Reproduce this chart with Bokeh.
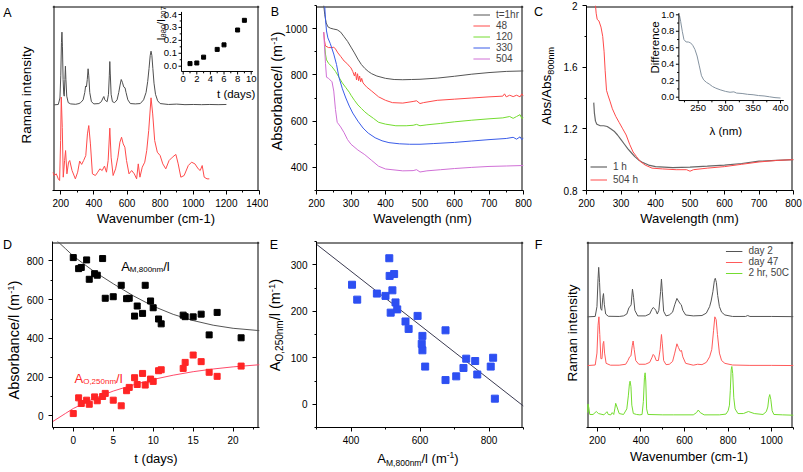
import math
from bokeh.plotting import figure
from bokeh.models import Range1d, Label, Legend, LegendItem, FixedTicker, GridBox, Div
from bokeh.embed import file_html
from bokeh.resources import INLINE
from bokeh.core.properties import value

FONT = "Liberation Sans"

# ---------------- data ----------------
# A: Raman spectra (arbitrary intensity, 0..1 of panel height)
a_black_w = [160, 185, 195, 200, 204, 207, 210, 214, 218, 221, 225, 228, 231, 236, 245, 260, 290, 310, 320, 335, 345, 350, 355, 360, 365, 369, 375, 385, 400, 430, 445, 455, 460, 466, 472, 480, 488, 493, 496, 499, 504, 512, 525, 540, 550, 558, 565, 572, 580, 588, 594, 605, 620, 650, 680, 700, 715, 725, 733, 740, 745, 750, 756, 763, 772, 785, 800, 850, 900, 950, 1000, 1050, 1100, 1150, 1200]
a_black_i = [0.463, 0.465, 0.50, 0.62, 0.80, 0.856, 0.78, 0.60, 0.52, 0.51, 0.60, 0.672, 0.60, 0.51, 0.475, 0.468, 0.466, 0.47, 0.475, 0.49, 0.53, 0.565, 0.56, 0.60, 0.658, 0.62, 0.53, 0.48, 0.468, 0.47, 0.48, 0.50, 0.508, 0.49, 0.485, 0.48, 0.52, 0.62, 0.697, 0.63, 0.52, 0.48, 0.475, 0.49, 0.53, 0.57, 0.60, 0.585, 0.56, 0.555, 0.53, 0.49, 0.47, 0.468, 0.47, 0.49, 0.53, 0.59, 0.66, 0.73, 0.753, 0.73, 0.66, 0.58, 0.52, 0.485, 0.47, 0.465, 0.467, 0.464, 0.465, 0.464, 0.465, 0.464, 0.465]
a_red_w = [152, 160, 173, 185, 193, 199, 203, 209, 215, 223, 229, 237, 247, 254, 268, 288, 302, 314, 326, 338, 351, 361, 369, 379, 391, 409, 423, 436, 450, 464, 476, 486, 496, 504, 516, 531, 545, 557, 567, 577, 587, 597, 612, 628, 644, 658, 668, 678, 692, 707, 719, 731, 745, 755, 767, 783, 800, 816, 834, 854, 874, 895, 909, 925, 945, 970, 990, 1010, 1030, 1042, 1054, 1066, 1083, 1097]
a_red_i = [0.099, 0.081, 0.09, 0.063, 0.054, 0.27, 0.505, 0.34, 0.072, 0.162, 0.216, 0.09, 0.153, 0.162, 0.108, 0.063, 0.099, 0.159, 0.141, 0.162, 0.189, 0.306, 0.351, 0.252, 0.09, 0.081, 0.099, 0.117, 0.108, 0.132, 0.099, 0.162, 0.337, 0.18, 0.081, 0.117, 0.18, 0.261, 0.288, 0.252, 0.234, 0.162, 0.09, 0.108, 0.09, 0.063, 0.144, 0.072, 0.126, 0.153, 0.216, 0.324, 0.501, 0.414, 0.27, 0.207, 0.189, 0.144, 0.117, 0.162, 0.18, 0.195, 0.144, 0.072, 0.081, 0.135, 0.153, 0.144, 0.117, 0.108, 0.135, 0.072, 0.063, 0.063]
# A inset: I880/I207 vs t
ins_a_t = [1, 2, 3, 5, 6, 8, 9]
ins_a_r = [0.02, 0.025, 0.07, 0.13, 0.165, 0.28, 0.355]

# B: absorbance spectra
b_labels = ["t=1hr", "48", "120", "330", "504"]
b1_w = [221, 224, 228, 233, 240, 250, 260, 270, 280, 290, 300, 310, 320, 330, 340, 350, 360, 375, 400, 425, 450, 475, 500, 550, 600, 650, 700, 750, 800]
b1_a = [1100, 1060, 1025, 1008, 1002, 998, 995, 985, 965, 945, 920, 895, 868, 845, 828, 815, 805, 795, 785, 780, 779, 780, 781, 786, 794, 803, 810, 815, 817]
b2_w = [221, 223, 226, 235, 245, 250, 255, 262, 270, 280, 288, 295, 300, 305, 310, 313, 316, 319, 322, 325, 328, 331, 335, 345, 360, 380, 400, 420, 450, 480, 490, 500, 510, 550, 600, 650, 700, 740, 745, 750, 760, 770, 780, 790, 795, 800]
b2_a = [985, 950, 925, 918, 918, 920, 912, 895, 880, 860, 850, 838, 830, 815, 795, 812, 778, 805, 775, 795, 770, 785, 765, 748, 730, 705, 690, 680, 678, 685, 688, 676, 680, 690, 695, 700, 705, 708, 718, 705, 712, 706, 712, 705, 718, 708]
b3_w = [224, 226, 229, 235, 245, 255, 265, 275, 285, 295, 300, 310, 320, 330, 340, 350, 365, 380, 400, 430, 460, 480, 490, 500, 520, 560, 600, 650, 700, 740, 760, 770, 780, 790, 795, 800]
b3_a = [925, 890, 865, 850, 835, 815, 790, 765, 745, 725, 712, 690, 670, 655, 640, 628, 612, 595, 587, 580, 580, 582, 586, 580, 584, 590, 597, 604, 610, 614, 620, 612, 620, 628, 612, 615]
b4_w = [224, 226, 229, 233, 240, 250, 258, 265, 275, 285, 295, 305, 320, 335, 350, 370, 390, 410, 440, 470, 500, 540, 600, 650, 700, 750, 770, 780, 790, 795, 800]
b4_a = [1095, 1040, 990, 960, 935, 890, 845, 790, 740, 700, 665, 635, 600, 570, 548, 528, 515, 507, 502, 500, 500, 503, 508, 514, 520, 525, 530, 522, 532, 520, 528]
b5_w = [221, 223, 226, 229, 235, 245, 250, 255, 260, 270, 280, 290, 300, 320, 340, 360, 380, 400, 450, 480, 490, 500, 520, 560, 600, 650, 700, 750, 800]
b5_a = [985, 930, 850, 790, 785, 770, 730, 650, 595, 575, 550, 520, 500, 475, 455, 430, 405, 393, 385, 386, 390, 380, 385, 390, 395, 400, 404, 406, 408]

# C: normalised spectra
c1_w = [221, 223, 226, 230, 240, 250, 260, 270, 280, 290, 300, 310, 320, 330, 340, 350, 360, 380, 400, 450, 500, 550, 600, 650, 700, 750, 800]
c1_a = [1.37, 1.30, 1.25, 1.23, 1.22, 1.22, 1.215, 1.20, 1.185, 1.16, 1.13, 1.10, 1.07, 1.045, 1.02, 1.0, 0.985, 0.965, 0.955, 0.948, 0.952, 0.958, 0.965, 0.975, 0.99, 0.995, 1.0]
c2_w = [226, 228, 231, 236, 242, 247, 251, 254, 258, 262, 268, 275, 285, 295, 305, 315, 325, 335, 345, 355, 370, 390, 420, 460, 490, 500, 510, 550, 600, 650, 700, 750, 800]
c2_a = [2.0, 1.95, 1.91, 1.90, 1.86, 1.80, 1.70, 1.58, 1.45, 1.42, 1.38, 1.33, 1.28, 1.24, 1.20, 1.16, 1.10, 1.05, 1.02, 0.99, 0.965, 0.945, 0.94, 0.935, 0.935, 0.925, 0.935, 0.945, 0.955, 0.97, 0.985, 0.995, 1.0]
c_labels = ["1 h", "504 h"]
# C inset: difference spectrum
ic_w = [216, 218, 221, 224, 228, 232, 236, 240, 244, 248, 252, 256, 260, 265, 270, 276, 282, 290, 300, 308, 315, 320, 330, 340, 350, 360, 370, 380, 390, 400]
ic_d = [0.99, 0.92, 0.80, 0.70, 0.67, 0.67, 0.66, 0.63, 0.58, 0.50, 0.38, 0.26, 0.21, 0.18, 0.16, 0.13, 0.11, 0.09, 0.07, 0.06, 0.065, 0.05, 0.045, 0.035, 0.03, 0.02, 0.015, 0.005, -0.005, -0.01]

# D: absorbance vs time
d_t = [0, 0.67, 1.0, 1.67, 2.0, 2.67, 3.0, 3.67, 4.0, 5.0, 6.0, 6.67, 7.0, 7.67, 8.0, 8.67, 9.0, 9.67, 10.0, 10.67, 11.0, 13.75, 14.0, 15.0, 16.0, 17.0, 18.0, 21.0]
d_am = [817, 760, 766, 805, 705, 734, 726, 812, 607, 615, 674, 605, 607, 515, 567, 529, 674, 593, 558, 500, 475, 520, 512, 511, 525, 418, 534, 403]
d_ao = [12, 93, 64, 81, 60, 98, 78, 100, 116, 81, 52, 130, 147, 197, 162, 219, 159, 190, 178, 233, 238, 245, 276, 314, 280, 225, 204, 257]
d_fit_t = [-2.6, -1, 0, 2.5, 5, 7.5, 10, 12.5, 15, 17.5, 20, 23.3]
d_fit_am = [925, 864, 825, 748, 682, 620, 566, 524, 492, 468, 452, 440]
d_fit_ao = [-30, 12, 38, 88, 128, 160, 188, 210, 228, 242, 253, 264]

# E: linear fit end points
e_fit_x = [300, 900]
e_fit_y = [344, -4]

# F: Raman spectra
f1_w = [155, 190, 198, 203, 206, 210, 215, 220, 225, 228, 232, 238, 250, 300, 320, 335, 345, 350, 355, 361, 366, 372, 385, 420, 440, 450, 456, 462, 468, 475, 482, 490, 494, 498, 504, 515, 530, 545, 555, 565, 572, 580, 585, 592, 605, 640, 680, 700, 715, 722, 730, 737, 741, 746, 752, 760, 770, 785, 820, 880, 890, 900, 1000, 1100]
f1_i = [0.595, 0.597, 0.65, 0.80, 0.861, 0.78, 0.64, 0.63, 0.70, 0.72, 0.66, 0.61, 0.598, 0.597, 0.60, 0.61, 0.645, 0.65, 0.66, 0.744, 0.70, 0.63, 0.60, 0.60, 0.61, 0.635, 0.645, 0.64, 0.63, 0.61, 0.63, 0.73, 0.798, 0.73, 0.625, 0.60, 0.605, 0.62, 0.66, 0.694, 0.68, 0.665, 0.66, 0.63, 0.605, 0.60, 0.602, 0.615, 0.65, 0.68, 0.73, 0.79, 0.802, 0.78, 0.71, 0.65, 0.62, 0.605, 0.597, 0.597, 0.602, 0.597, 0.597, 0.596]
f2_w = [155, 190, 198, 203, 207, 211, 216, 221, 226, 229, 233, 240, 260, 300, 330, 340, 348, 354, 360, 364, 369, 376, 390, 420, 440, 450, 456, 462, 470, 480, 488, 494, 498, 504, 515, 530, 545, 555, 565, 572, 580, 586, 592, 605, 640, 660, 680, 700, 715, 725, 733, 739, 745, 751, 760, 770, 785, 820, 900, 1000, 1100]
f2_i = [0.333, 0.336, 0.40, 0.55, 0.595, 0.50, 0.37, 0.37, 0.45, 0.463, 0.40, 0.345, 0.335, 0.335, 0.34, 0.36, 0.38, 0.385, 0.44, 0.465, 0.42, 0.36, 0.34, 0.34, 0.35, 0.375, 0.393, 0.385, 0.36, 0.36, 0.42, 0.50, 0.45, 0.36, 0.338, 0.34, 0.355, 0.40, 0.45, 0.43, 0.41, 0.414, 0.38, 0.345, 0.335, 0.34, 0.338, 0.35, 0.38, 0.42, 0.52, 0.595, 0.58, 0.50, 0.40, 0.36, 0.345, 0.336, 0.334, 0.334, 0.333]
f3_w = [155, 157, 160, 165, 180, 195, 205, 230, 244, 250, 262, 268, 275, 280, 284, 290, 300, 320, 335, 342, 347, 350, 354, 358, 365, 380, 395, 405, 411, 416, 419, 422, 426, 432, 500, 550, 640, 655, 663, 672, 690, 760, 790, 800, 806, 810, 814, 817, 821, 826, 832, 845, 870, 893, 920, 960, 975, 982, 987, 991, 996, 1002, 1010, 1050, 1100]
f3_i = [0.08, 0.126, 0.11, 0.07, 0.07, 0.086, 0.075, 0.068, 0.085, 0.07, 0.068, 0.08, 0.07, 0.10, 0.13, 0.11, 0.075, 0.07, 0.10, 0.17, 0.235, 0.249, 0.22, 0.12, 0.075, 0.07, 0.068, 0.07, 0.14, 0.27, 0.294, 0.25, 0.10, 0.07, 0.068, 0.068, 0.068, 0.08, 0.094, 0.08, 0.068, 0.068, 0.072, 0.09, 0.12, 0.20, 0.31, 0.328, 0.29, 0.16, 0.10, 0.075, 0.075, 0.086, 0.075, 0.07, 0.085, 0.11, 0.16, 0.177, 0.15, 0.09, 0.07, 0.068, 0.066]
f_labels = ["day 2", "day 47", "2 hr, 50C"]

# tick values
a_xt = [200, 400, 600, 800, 1000, 1200, 1400]
a_xm = [300, 500, 700, 900, 1100, 1300]
bc_xt = [200, 300, 400, 500, 600, 700, 800]
bc_xm = [250, 350, 450, 550, 650, 750]
b_yt = [400, 600, 800, 1000]
b_ym = [300, 500, 700, 900, 1100]
c_yt = [0.8, 1.2, 1.6, 2.0]
c_ym = [1.0, 1.4, 1.8]
d_xt = [0, 5, 10, 15, 20]
d_xm = [-2.5, 2.5, 7.5, 12.5, 17.5, 22.5]
d_yt = [0, 200, 400, 600, 800]
d_ym = [100, 300, 500, 700]
e_xt = [400, 600, 800]
e_xm = [300, 500, 700, 900]
e_yt = [0, 100, 200, 300]
e_ym = [-50, 50, 150, 250, 350]
f_xt = [200, 400, 600, 800, 1000]
f_xm = [300, 500, 700, 900, 1100]
ia_xt = [0, 2, 4, 6, 8, 10]
ia_xm = [1, 3, 5, 7, 9]
ia_yt = [0.0, 0.1, 0.2, 0.3, 0.4]
ia_ym = [0.05, 0.15, 0.25, 0.35]
ic_xt = [250, 300, 350, 400]
ic_xm = [225, 275, 325, 375]
ic_yt = [0.0, 0.2, 0.4, 0.6, 0.8, 1.0]
ic_ym = [0.1, 0.3, 0.5, 0.7, 0.9]

# ---------------- helpers ----------------
CW = {' ': .278, '!': .278, '(': .333, ')': .333, ',': .278, '-': .333, '.': .278, '/': .278, '=': .584,
      'A': .667, 'B': .667, 'C': .722, 'D': .722, 'E': .667, 'F': .611, 'I': .278, 'M': .833, 'O': .778,
      'R': .722, 'W': .944, 'a': .556, 'b': .556, 'c': .5, 'd': .556, 'e': .556, 'f': .278, 'g': .556,
      'h': .556, 'i': .222, 'l': .222, 'm': .833, 'n': .556, 'o': .556, 'r': .333, 's': .5, 't': .278,
      'u': .556, 'v': .5, 'w': .722, 'y': .5}


def tw(s, size):
    return sum(CW.get(ch, 0.556) for ch in s) * size


class Panel:
    """A plot figure plus an HTML layer (same grid cell) for the texts lying outside the frame."""

    def __init__(self, w, h, bl, br, bt, bb, xr, yr, xt, xm, yt, ym):
        p = figure(width=w, height=h, min_border_left=bl, min_border_right=br,
                   min_border_top=bt, min_border_bottom=bb,
                   x_range=Range1d(*xr), y_range=Range1d(*yr),
                   output_backend="svg", toolbar_location=None, title=None)
        p.xgrid.visible = False
        p.ygrid.visible = False
        p.outline_line_color = None
        p.background_fill_alpha = 0
        p.border_fill_alpha = 0
        p.xaxis.ticker = FixedTicker(ticks=xt, minor_ticks=xm)
        p.yaxis.ticker = FixedTicker(ticks=yt, minor_ticks=ym)
        for ax in p.axis:
            ax.axis_line_color = "black"
            ax.major_tick_line_color = "black"
            ax.minor_tick_line_color = "black"
            ax.major_tick_in = 0
            ax.major_tick_out = 4
            ax.minor_tick_in = 0
            ax.minor_tick_out = 2
            ax.major_label_text_font = FONT
            ax.major_label_text_font_size = "10px"
            ax.major_label_text_color = "black"
        p.xaxis.major_label_standoff = 4
        p.yaxis.major_label_standoff = 5
        if not yt:
            p.yaxis.visible = False
        self.p = p
        self.w, self.h = w, h
        self.fl, self.ft = bl, bt
        self.fw, self.fh = w - bl - br, h - bt - bb
        self.xr, self.yr = xr, yr
        self.html = []
        # frame edges (top, right and, without y axis, left), drawn just inside the clipped frame
        dx = 1.5 * (xr[1] - xr[0]) / self.fw
        dy = 1.5 * (yr[1] - yr[0]) / self.fh
        x0s, y0s = [xr[0], xr[1] - dx], [yr[1] - dy, yr[0]]
        x1s, y1s = [xr[1], xr[1] - dx], [yr[1] - dy, yr[1]]
        if not yt:
            x0s.append(xr[0] + dx); y0s.append(yr[0]); x1s.append(xr[0] + dx); y1s.append(yr[1])
        p.segment(x0=x0s, y0=y0s, x1=x1s, y1=y1s, color="black", line_width=1)

    def X(self, px):
        return self.xr[0] + (px - self.fl) / self.fw * (self.xr[1] - self.xr[0])

    def Y(self, py):
        return self.yr[1] - (py - self.ft) / self.fh * (self.yr[1] - self.yr[0])

    # text outside the frame, as HTML centred on (cx, cy)
    def out(self, cx, cy, parts, rot=False, color="black"):
        main = parts[0][1]
        inner = ""
        for t, s, sh in parts:
            if s == main and sh == 0:
                inner += t
            else:
                inner += f'<span style="font-size:{s}px;vertical-align:{-sh}px">{t}</span>'
        tr = "translate(-50%,-50%)" + (" rotate(-90deg)" if rot else "")
        self.html.append(f'<span style="position:absolute;left:{cx:.1f}px;top:{cy:.1f}px;transform:{tr};'
                         f'white-space:nowrap;font-family:Liberation Sans,Arial,sans-serif;font-size:{main}px;'
                         f'line-height:1;color:{color}">{inner}</span>')

    # text inside the frame, as Bokeh labels (left aligned on a baseline).
    # horizontal: start = left x, base = baseline y.  vertical: start = bottom y, base = baseline x.
    def rich(self, start, base, parts, vertical=False, color="black"):
        pos = start
        for t, s, sh in parts:
            w = tw(t, s)
            if vertical:
                lx, ly, ang = base + sh, pos, math.pi / 2
                pos -= w
            else:
                lx, ly, ang = pos, base + sh, 0.0
                pos += w
            self.p.add_layout(Label(x=self.X(lx), y=self.Y(ly), text=t, text_font=FONT,
                                    text_font_size=f"{s}px", text_color=color, angle=ang,
                                    text_align="left", text_baseline="alphabetic"))

    def layer(self):
        body = (f'<div style="position:absolute;left:0;top:0;width:{self.w}px;height:{self.h}px;'
                f'overflow:visible">' + "".join(self.html) + "</div>")
        return Div(text=body, width=self.w, height=self.h, margin=0,
                   styles={"position": "relative", "z-index": "5", "pointer-events": "none",
                           "overflow": "visible"})


def inset_axes(sub, x0, y0, x1, y1, xt, xm, yt, ym, pxx, pxy, size, yfmt):
    sub.segment(x0=[x0, x0], y0=[y0, y0], x1=[x1, x0], y1=[y0, y1], color="black", line_width=1)
    tl, tm = 3.0, 1.8
    sub.segment(x0=xt, y0=[y0] * len(xt), x1=xt, y1=[y0 - tl / pxy] * len(xt), color="black", line_width=1)
    sub.segment(x0=xm, y0=[y0] * len(xm), x1=xm, y1=[y0 - tm / pxy] * len(xm), color="black", line_width=1)
    sub.segment(x0=[x0] * len(yt), y0=yt, x1=[x0 - tl / pxx] * len(yt), y1=yt, color="black", line_width=1)
    sub.segment(x0=[x0] * len(ym), y0=ym, x1=[x0 - tm / pxx] * len(ym), y1=ym, color="black", line_width=1)
    sub.text(x=xt, y=[y0 - 4.5 / pxy] * len(xt), text=[str(v) for v in xt], text_align="center",
             text_baseline="top", text_font=value(FONT), text_font_size=value(f"{size}px"), text_color="black")
    sub.text(x=[x0 - 4.5 / pxx] * len(yt), y=yt, text=[yfmt(v) for v in yt], text_align="right",
             text_baseline="middle", text_font=value(FONT), text_font_size=value(f"{size}px"), text_color="black")


def make_legend(p, items, location, gh, padding=4):
    lg = Legend(items=[LegendItem(label=l, renderers=[r]) for l, r in items], location=location,
                border_line_alpha=0, background_fill_alpha=0, label_text_font=FONT,
                label_text_font_size="10px", glyph_width=17, glyph_height=gh, label_height=gh,
                label_standoff=6, spacing=0, padding=padding, margin=0)
    p.add_layout(lg)


GRAY = "#4f4f4f"
RED = "#ff4a4a"
GREEN = "#74dc30"
BLUE = "#3a5ce8"
PURPLE = "#d070d6"
AX = 13
AXR = 14.5
SUP = [("-1", 9.5, -5)]

# ---------------- Panel A ----------------
A = Panel(268, 236, 52, 9, 5, 46, (150, 1400), (0, 1), a_xt, a_xm, [], [])
A.p.line(a_black_w, a_black_i, color=GRAY, line_width=1)
A.p.line(a_red_w, a_red_i, color=RED, line_width=1)
A.out(7.5, 13, [("A", 12.5, 0)])
A.out(27, 95, [("Raman intensity", 13.5, 0)], rot=True)
A.out(156, 218, [("Wavenumber (cm-1)", AX, 0)])
subA = A.p.subplot(x_source=Range1d(0, 10), y_source=Range1d(0, 0.4),
                   x_target=Range1d(A.X(182.7), A.X(250.7)), y_target=Range1d(A.Y(65.7), A.Y(14.0)))
subA.scatter(ins_a_t, ins_a_r, marker="square", size=4, color="black")
inset_axes(subA, -0.25, -0.041, 10.25, 0.42, ia_xt, ia_xm, ia_yt, ia_ym, 6.8, 129.25, 9.5,
           lambda v: f"{v:.1f}")
A.rich(40, 160.5, [("I", 11, 0), ("880", 7.5, 2.5), ("/I", 11, 0), ("207", 7.5, 2.5)], vertical=True)
A.rich(216.5, 93, [("t (days)", 11.5, 0)])

# ---------------- Panel B ----------------
B = Panel(267, 236, 48, 12, 5, 46, (200, 800), (300, 1100), bc_xt, bc_xm, b_yt, b_ym)
rb = [B.p.line(b1_w, b1_a, color="#555555", line_width=1),
      B.p.line(b2_w, b2_a, color=RED, line_width=1),
      B.p.line(b3_w, b3_a, color=GREEN, line_width=1),
      B.p.line(b4_w, b4_a, color=BLUE, line_width=1),
      B.p.line(b5_w, b5_a, color=PURPLE, line_width=1)]
make_legend(B.p, list(zip(b_labels, rb)), "top_right", 11)
B.out(7, 12, [("B", 12.5, 0)])
B.out(8.5, 91, [("Absorbance/l (m", AXR, 0)] + SUP + [(")", AXR, 0)], rot=True)
B.out(154.5, 218, [("Wavelength (nm)", AX, 0)])

# ---------------- Panel C ----------------
C = Panel(267, 236, 51, 9, 5, 46, (200, 800), (0.8, 2.0), bc_xt, bc_xm, c_yt, c_ym)
rc = [C.p.line(c1_w, c1_a, color="#666666", line_width=1.2),
      C.p.line(c2_w, c2_a, color=RED, line_width=1)]
make_legend(C.p, list(zip(c_labels, rc)), "bottom_left", 13)
C.out(3.5, 12, [("C", 12.5, 0)])
C.out(13, 86, [("Abs/Abs", 13.5, 0), ("800nm", 9, 3)], rot=True)
C.out(154.5, 218, [("Wavelength (nm)", AX, 0)])
subC = C.p.subplot(x_source=Range1d(250, 400), y_source=Range1d(0, 1),
                   x_target=Range1d(C.X(162.7), C.X(245.0)), y_target=Range1d(C.Y(96.7), C.Y(14.3)))
subC.line(ic_w, ic_d, color="#8593a0", line_width=1)
inset_axes(subC, 214.8, -0.0405, 406, 1.02, ic_xt, ic_xm, ic_yt, ic_ym, 0.5487, 82.4, 9.5,
           lambda v: f"{v:.1f}")
C.rich(73, 119.5, [("Difference", 11.5, 0)], vertical=True)
C.rich(174, 130.5, [("\u03bb (nm)", 11.5, 0)])

# ---------------- Panel D ----------------
D = Panel(268, 235, 52, 9, 5, 44, (-2.6, 23.3), (-60, 900), d_xt, d_xm, d_yt, d_ym)
D.p.line(d_fit_t, d_fit_am, color="#555555", line_width=1)
D.p.line(d_fit_t, d_fit_ao, color="#ff4a6a", line_width=1)
D.p.scatter(d_t, d_am, marker="square", size=6, color="black")
D.p.scatter(d_t, d_ao, marker="square", size=6, color="#ff2525")
D.out(7.5, 9, [("D", 12.5, 0)])
D.out(13.5, 104, [("Absorbance/l (m", AXR, 0)] + SUP + [(")", AXR, 0)], rot=True)
D.out(156, 222, [("t (days)", AX, 0)])
D.rich(120.7, 30, [("A", 13, 0), ("M,800nm", 8, 3), ("/l", 13, 0)])
D.rich(74, 142, [("A", 13, 0), ("O,250nm", 8, 3), ("/l", 13, 0)], color="#ff2525")

# ---------------- Panel E ----------------
E = Panel(267, 235, 48, 12, 5, 44, (300, 900), (-50, 350), e_xt, e_xm, e_yt, e_ym)
E.p.line(e_fit_x, e_fit_y, color="#3a3a50", line_width=1)
E.p.scatter(d_am, d_ao, marker="square", size=7, color="#2d4ff2")
E.out(6, 9, [("E", 12.5, 0)])
E.out(8, 89, [("A", AXR, 0), ("O,250nm", 10, 3), ("/l (m", AXR, 0)] + SUP + [(")", AXR, 0)], rot=True)
E.out(150, 223, [("A", AX, 0), ("M,800nm", 8.5, 3), ("/l (m", AX, 0), ("-1", 8.5, -5), (")", AX, 0)])

# ---------------- Panel F ----------------
F = Panel(267, 235, 51, 9, 5, 44, (150, 1100), (0, 1), f_xt, f_xm, [], [])
rf = [F.p.line(f1_w, f1_i, color="#555555", line_width=1),
      F.p.line(f2_w, f2_i, color="#ff5a5a", line_width=1),
      F.p.line(f3_w, f3_i, color=GREEN, line_width=1)]
make_legend(F.p, list(zip(f_labels, rf)), "top_right", 10, padding=4)
F.out(3.5, 9, [("F", 12.5, 0)])
F.out(37.5, 97, [("Raman intensity", 13.5, 0)], rot=True)
F.out(154, 220, [("Wavenumber (cm-1)", AX, 0)])

children = []
for i, pan in enumerate([A, B, C, D, E, F]):
    r, c = divmod(i, 3)
    children.append((pan.p, r, c))
    children.append((pan.layer(), r, c))
grid = GridBox(children=children, spacing=0)
open("out.html", "w").write(file_html(grid, INLINE))
